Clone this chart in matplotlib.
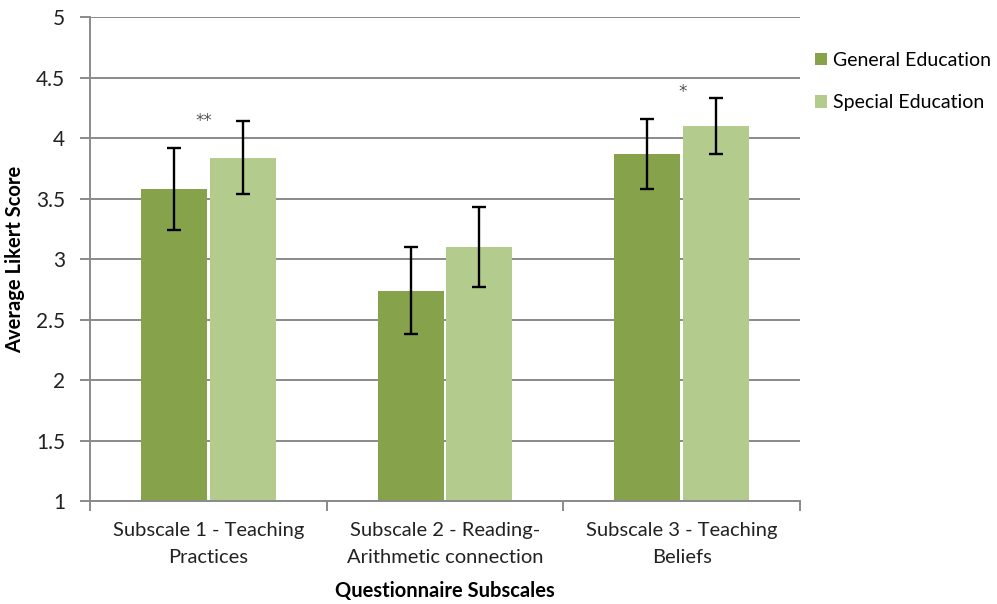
import matplotlib.pyplot as plt
import numpy as np

categories = ["Subscale 1 - Teaching\nPractices",
              "Subscale 2 - Reading-\nArithmetic connection",
              "Subscale 3 - Teaching\nBeliefs"]
general = [3.58, 2.74, 3.87]
general_err = [0.34, 0.36, 0.29]
special = [3.84, 3.10, 4.10]
special_err = [0.30, 0.33, 0.23]
stars = ["**", "", "*"]
star_y = [4.14, 0, 4.38]

GEN_COLOR = "#86a34c"
SPEC_COLOR = "#b4cb8e"
GRID_COLOR = "#8a8a8a"

plt.rcParams["font.family"] = ["Lato", "DejaVu Sans"]

fig = plt.figure(figsize=(9.97, 6.04), dpi=100)
ax = fig.add_axes([0.0903, 0.1705, 0.712, 0.801])

x = np.arange(len(categories))
width = 0.28
gap = 0.005
err_kw = dict(ecolor="black", capsize=5, elinewidth=1.7, capthick=1.7)
ax.bar(x - width / 2 - gap, general, width, bottom=0, yerr=general_err,
       color=GEN_COLOR, label="General Education", error_kw=err_kw, zorder=2)
ax.bar(x + width / 2 + gap, special, width, bottom=0, yerr=special_err,
       color=SPEC_COLOR, label="Special Education", error_kw=err_kw, zorder=2)

for xi, s, sy in zip(x, stars, star_y):
    if s:
        ax.text(xi - 0.02 if s == "**" else xi + 0.005, sy, s, family="DejaVu Sans",
                ha="center", va="center", fontsize=12, color="#555555")

ax.set_ylim(1, 5)
ax.set_xlim(-0.5, 2.5)
ax.set_yticks(np.arange(1, 5.01, 0.5))
ax.set_yticklabels(["1", "1.5", "2", "2.5", "3", "3.5", "4", "4.5", "5"])
ax.yaxis.grid(True, color=GRID_COLOR, linewidth=1.4, zorder=0)
ax.set_axisbelow(True)

ax.set_xticks(x)
ax.set_xticklabels(categories, fontsize=14.5, color="#222222")
for t in ax.get_xticklabels():
    t.set_linespacing(1.7)
ax.tick_params(axis="x", length=0, pad=15)
ax.set_xticks([-0.5, 0.5, 1.5, 2.5], minor=True)
ax.tick_params(axis="x", which="minor", length=7, color=GRID_COLOR, width=1.4)
ax.tick_params(axis="y", length=7, color=GRID_COLOR, width=1.4,
               labelsize=15, pad=11, labelcolor="#222222")

for side in ["top", "right"]:
    ax.spines[side].set_visible(False)
for side in ["left", "bottom"]:
    ax.spines[side].set_color(GRID_COLOR)
    ax.spines[side].set_linewidth(1.4)

ax.set_ylabel("Average Likert Score", fontsize=14.5, fontweight="bold", labelpad=8)
ax.set_xlabel("Questionnaire Subscales", fontsize=14.5, fontweight="bold", labelpad=11)

ax.legend(loc="upper left", bbox_to_anchor=(1.0, 0.96), frameon=False,
          fontsize=14, handlelength=0.6, handleheight=0.6, handletextpad=0.3,
          labelspacing=1.3, borderpad=0.3)

fig.savefig("out.png", dpi=100)
